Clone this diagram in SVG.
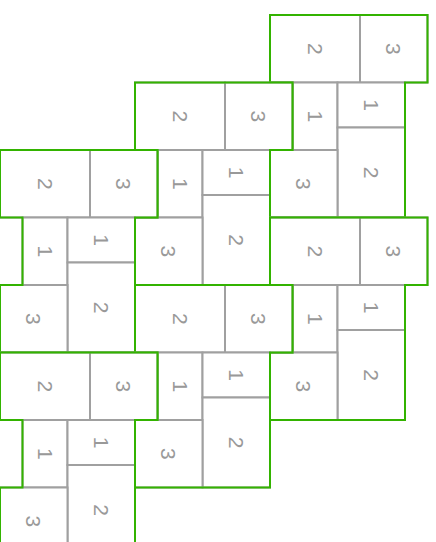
<svg xmlns="http://www.w3.org/2000/svg" width="436" height="542" viewBox="0 0 436 542">
<style>
.t{fill:#ffffff;stroke:#a0a0a0;stroke-width:2}
.o{fill:none;stroke:#33b300;stroke-width:2;stroke-linejoin:miter}
.n{font-family:"Liberation Sans",Arial,sans-serif;font-size:21px;fill:#999999;text-anchor:middle;dominant-baseline:central}
</style>
<rect x="0" y="0" width="436" height="542" fill="#ffffff"/>
<g id="groupA" transform="translate(270,15)">
<rect class="t" x="0" y="0" width="90" height="67.5"/><text class="n" transform="translate(45,33.75) rotate(90)">2</text>
<rect class="t" x="90" y="0" width="67.5" height="67.5"/><text class="n" transform="translate(123.75,33.75) rotate(90)">3</text>
<rect class="t" x="22.5" y="67.5" width="45" height="67.5"/><text class="n" transform="translate(45,101.25) rotate(90)">1</text>
<rect class="t" x="67.5" y="67.5" width="67.5" height="45"/><text class="n" transform="translate(101.25,90) rotate(90)">1</text>
<rect class="t" x="67.5" y="112.5" width="67.5" height="90"/><text class="n" transform="translate(101.25,157.5) rotate(90)">2</text>
<rect class="t" x="0" y="135" width="67.5" height="67.5"/><text class="n" transform="translate(33.75,168.75) rotate(90)">3</text>
<path class="o" d="M0,0H157.5V67.5H135V202.5H0V135H22.5V67.5H0Z"/>
</g>
<g id="groupB" transform="translate(135,82.5)">
<rect class="t" x="0" y="0" width="90" height="67.5"/><text class="n" transform="translate(45,33.75) rotate(90)">2</text>
<rect class="t" x="90" y="0" width="67.5" height="67.5"/><text class="n" transform="translate(123.75,33.75) rotate(90)">3</text>
<rect class="t" x="22.5" y="67.5" width="45" height="67.5"/><text class="n" transform="translate(45,101.25) rotate(90)">1</text>
<rect class="t" x="67.5" y="67.5" width="67.5" height="45"/><text class="n" transform="translate(101.25,90) rotate(90)">1</text>
<rect class="t" x="67.5" y="112.5" width="67.5" height="90"/><text class="n" transform="translate(101.25,157.5) rotate(90)">2</text>
<rect class="t" x="0" y="135" width="67.5" height="67.5"/><text class="n" transform="translate(33.75,168.75) rotate(90)">3</text>
<path class="o" d="M0,0H157.5V67.5H135V202.5H0V135H22.5V67.5H0Z"/>
</g>
<g id="groupC" transform="translate(0,150)">
<rect class="t" x="0" y="0" width="90" height="67.5"/><text class="n" transform="translate(45,33.75) rotate(90)">2</text>
<rect class="t" x="90" y="0" width="67.5" height="67.5"/><text class="n" transform="translate(123.75,33.75) rotate(90)">3</text>
<rect class="t" x="22.5" y="67.5" width="45" height="67.5"/><text class="n" transform="translate(45,101.25) rotate(90)">1</text>
<rect class="t" x="67.5" y="67.5" width="67.5" height="45"/><text class="n" transform="translate(101.25,90) rotate(90)">1</text>
<rect class="t" x="67.5" y="112.5" width="67.5" height="90"/><text class="n" transform="translate(101.25,157.5) rotate(90)">2</text>
<rect class="t" x="0" y="135" width="67.5" height="67.5"/><text class="n" transform="translate(33.75,168.75) rotate(90)">3</text>
<path class="o" d="M0,0H157.5V67.5H135V202.5H0V135H22.5V67.5H0Z"/>
</g>
<g id="groupD" transform="translate(270,217.5)">
<rect class="t" x="0" y="0" width="90" height="67.5"/><text class="n" transform="translate(45,33.75) rotate(90)">2</text>
<rect class="t" x="90" y="0" width="67.5" height="67.5"/><text class="n" transform="translate(123.75,33.75) rotate(90)">3</text>
<rect class="t" x="22.5" y="67.5" width="45" height="67.5"/><text class="n" transform="translate(45,101.25) rotate(90)">1</text>
<rect class="t" x="67.5" y="67.5" width="67.5" height="45"/><text class="n" transform="translate(101.25,90) rotate(90)">1</text>
<rect class="t" x="67.5" y="112.5" width="67.5" height="90"/><text class="n" transform="translate(101.25,157.5) rotate(90)">2</text>
<rect class="t" x="0" y="135" width="67.5" height="67.5"/><text class="n" transform="translate(33.75,168.75) rotate(90)">3</text>
<path class="o" d="M0,0H157.5V67.5H135V202.5H0V135H22.5V67.5H0Z"/>
</g>
<g id="groupE" transform="translate(135,285)">
<rect class="t" x="0" y="0" width="90" height="67.5"/><text class="n" transform="translate(45,33.75) rotate(90)">2</text>
<rect class="t" x="90" y="0" width="67.5" height="67.5"/><text class="n" transform="translate(123.75,33.75) rotate(90)">3</text>
<rect class="t" x="22.5" y="67.5" width="45" height="67.5"/><text class="n" transform="translate(45,101.25) rotate(90)">1</text>
<rect class="t" x="67.5" y="67.5" width="67.5" height="45"/><text class="n" transform="translate(101.25,90) rotate(90)">1</text>
<rect class="t" x="67.5" y="112.5" width="67.5" height="90"/><text class="n" transform="translate(101.25,157.5) rotate(90)">2</text>
<rect class="t" x="0" y="135" width="67.5" height="67.5"/><text class="n" transform="translate(33.75,168.75) rotate(90)">3</text>
<path class="o" d="M0,0H157.5V67.5H135V202.5H0V135H22.5V67.5H0Z"/>
</g>
<g id="groupF" transform="translate(0,352.5)">
<rect class="t" x="0" y="0" width="90" height="67.5"/><text class="n" transform="translate(45,33.75) rotate(90)">2</text>
<rect class="t" x="90" y="0" width="67.5" height="67.5"/><text class="n" transform="translate(123.75,33.75) rotate(90)">3</text>
<rect class="t" x="22.5" y="67.5" width="45" height="67.5"/><text class="n" transform="translate(45,101.25) rotate(90)">1</text>
<rect class="t" x="67.5" y="67.5" width="67.5" height="45"/><text class="n" transform="translate(101.25,90) rotate(90)">1</text>
<rect class="t" x="67.5" y="112.5" width="67.5" height="90"/><text class="n" transform="translate(101.25,157.5) rotate(90)">2</text>
<rect class="t" x="0" y="135" width="67.5" height="67.5"/><text class="n" transform="translate(33.75,168.75) rotate(90)">3</text>
<path class="o" d="M0,0H157.5V67.5H135V202.5H0V135H22.5V67.5H0Z"/>
</g>
<g id="connectors"/>
</svg>
